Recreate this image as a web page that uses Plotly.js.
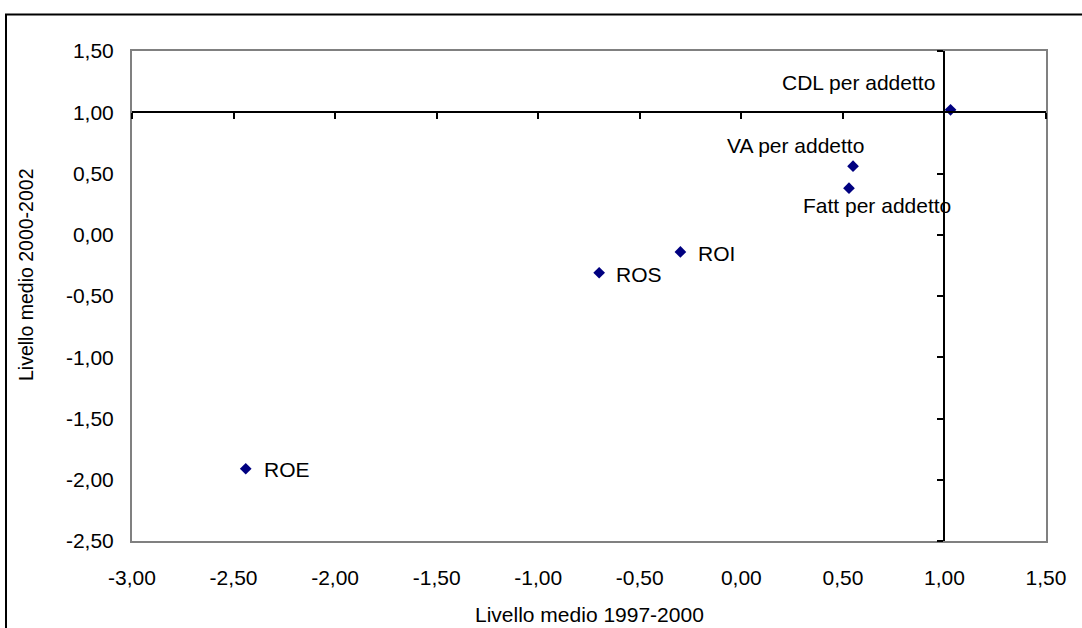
<!DOCTYPE html>
<html>
<head>
<meta charset="utf-8">
<script src="https://cdn.plot.ly/plotly-3.0.1.min.js"></script>
<style>
  html, body { margin: 0; padding: 0; background: #fff; }
  #chart { width: 1082px; height: 628px; }
</style>
</head>
<body>
<div id="chart"></div>
<script>
// Indicatori: livello medio 1997-2000 (x) contro livello medio 2000-2002 (y)
const indicatori = ["CDL per addetto", "VA per addetto", "Fatt per addetto", "ROI", "ROS", "ROE"];
const livello9700 = [1.03, 0.55, 0.53, -0.30, -0.70, -2.44];
const livello0002 = [1.02, 0.56, 0.38, -0.14, -0.31, -1.91];

const xTickVals = [-3, -2.5, -2, -1.5, -1, -0.5, 0, 0.5, 1, 1.5];
const xTickText = ["-3,00", "-2,50", "-2,00", "-1,50", "-1,00", "-0,50", "0,00", "0,50", "1,00", "1,50"];
const yTickVals = [-2.5, -2, -1.5, -1, -0.5, 0, 0.5, 1, 1.5];
const yTickText = ["-2,50", "-2,00", "-1,50", "-1,00", "-0,50", "0,00", "0,50", "1,00", "1,50"];

const xRange = [-3, 1.5];
const yRange = [-2.5, 1.5];
const xCross = 1;   // l'asse verticale incrocia a x = 1
const yCross = 1;   // l'asse orizzontale incrocia a y = 1

// placement of each point label (pixels from the marker)
const labelPos = [
  { xanchor: "right", xshift: -14, yshift: 27 },
  { xanchor: "right", xshift: 13, yshift: 21 },
  { xanchor: "left", xshift: -48, yshift: -17 },
  { xanchor: "left", xshift: 16, yshift: -2 },
  { xanchor: "left", xshift: 15, yshift: -2 },
  { xanchor: "left", xshift: 16, yshift: -1 }
];

const FONT = "Liberation Sans, Arial, sans-serif";
const FS = 21;

const trace = {
  type: "scatter",
  mode: "markers",
  x: livello9700,
  y: livello0002,
  xaxis: "x",
  yaxis: "y",
  marker: { symbol: "diamond", size: 9, color: "#000080", line: { width: 0 } },
  hoverinfo: "skip",
  showlegend: false
};

const pointLabels = indicatori.map((name, i) => Object.assign({
  x: livello9700[i],
  y: livello0002[i],
  xref: "x",
  yref: "y",
  text: name,
  showarrow: false,
  yanchor: "middle",
  font: { family: FONT, size: FS, color: "#000" }
}, labelPos[i]));

const L = 132, R = 36, T = 51, B = 87;
const W = 1082, H = 628;
const pw = W - L - R, ph = H - T - B;
const px = v => (v - L) / pw;          // pixel x -> paper x
const py = v => 1 - (v - T) / ph;      // pixel y -> paper y

const layout = {
  width: W,
  height: H,
  margin: { l: L, r: R, t: T, b: B, pad: 0 },
  paper_bgcolor: "#fff",
  plot_bgcolor: "#fff",
  separators: ",.",
  font: { family: FONT, size: FS, color: "#000" },
  xaxis: {
    range: xRange,
    tickmode: "array",
    tickvals: xTickVals,
    ticktext: xTickText,
    ticks: "outside",
    ticklen: 17,
    tickcolor: "rgba(0,0,0,0)",
    showgrid: false,
    zeroline: false,
    showline: true,
    mirror: true,
    linecolor: "#808080",
    linewidth: 2,
    fixedrange: true
  },
  yaxis: {
    range: yRange,
    tickmode: "array",
    tickvals: yTickVals,
    ticktext: yTickText,
    ticks: "outside",
    ticklen: 12,
    tickcolor: "rgba(0,0,0,0)",
    showgrid: false,
    zeroline: false,
    showline: true,
    mirror: true,
    linecolor: "#808080",
    linewidth: 2,
    fixedrange: true
  },
  // assi che si incrociano in (1, 1), senza etichette
  xaxis2: {
    overlaying: "x",
    anchor: "free",
    position: (yCross - yRange[0]) / (yRange[1] - yRange[0]),
    range: xRange,
    tickmode: "array",
    tickvals: xTickVals,
    showticklabels: false,
    ticks: "outside",
    ticklen: 6,
    tickwidth: 2,
    tickcolor: "#000",
    showgrid: false,
    zeroline: false,
    showline: true,
    linecolor: "#000",
    linewidth: 2,
    fixedrange: true
  },
  yaxis2: {
    overlaying: "y",
    anchor: "free",
    side: "left",
    position: (xCross - xRange[0]) / (xRange[1] - xRange[0]),
    range: yRange,
    tickmode: "array",
    tickvals: yTickVals,
    showticklabels: false,
    ticks: "outside",
    ticklen: 6,
    tickwidth: 2,
    tickcolor: "#000",
    showgrid: false,
    zeroline: false,
    showline: true,
    linecolor: "#000",
    linewidth: 2,
    fixedrange: true
  },
  annotations: pointLabels.concat([
    {
      xref: "paper", yref: "paper",
      x: 0.5, y: py(614),
      text: "Livello medio 1997-2000",
      showarrow: false, xanchor: "center", yanchor: "middle",
      font: { family: FONT, size: FS, color: "#000" }
    },
    {
      xref: "paper", yref: "paper",
      x: px(26), y: py(275),
      text: "Livello medio 2000-2002",
      textangle: -90,
      showarrow: false, xanchor: "center", yanchor: "middle",
      font: { family: FONT, size: 19.5, color: "#000" }
    }
  ]),
  shapes: [
    {
      type: "rect", xref: "paper", yref: "paper", layer: "below",
      x0: px(6), x1: px(1100), y0: py(14.5), y1: py(660),
      line: { color: "#000", width: 2 }, fillcolor: "rgba(0,0,0,0)"
    }
  ]
};

// empty trace that carries the crossing axes
const axisCarrier = {
  type: "scatter", mode: "markers",
  x: [], y: [], xaxis: "x2", yaxis: "y2",
  hoverinfo: "skip", showlegend: false
};

Plotly.newPlot("chart", [axisCarrier, trace], layout, { staticPlot: true, displayModeBar: false });
</script>
</body>
</html>
